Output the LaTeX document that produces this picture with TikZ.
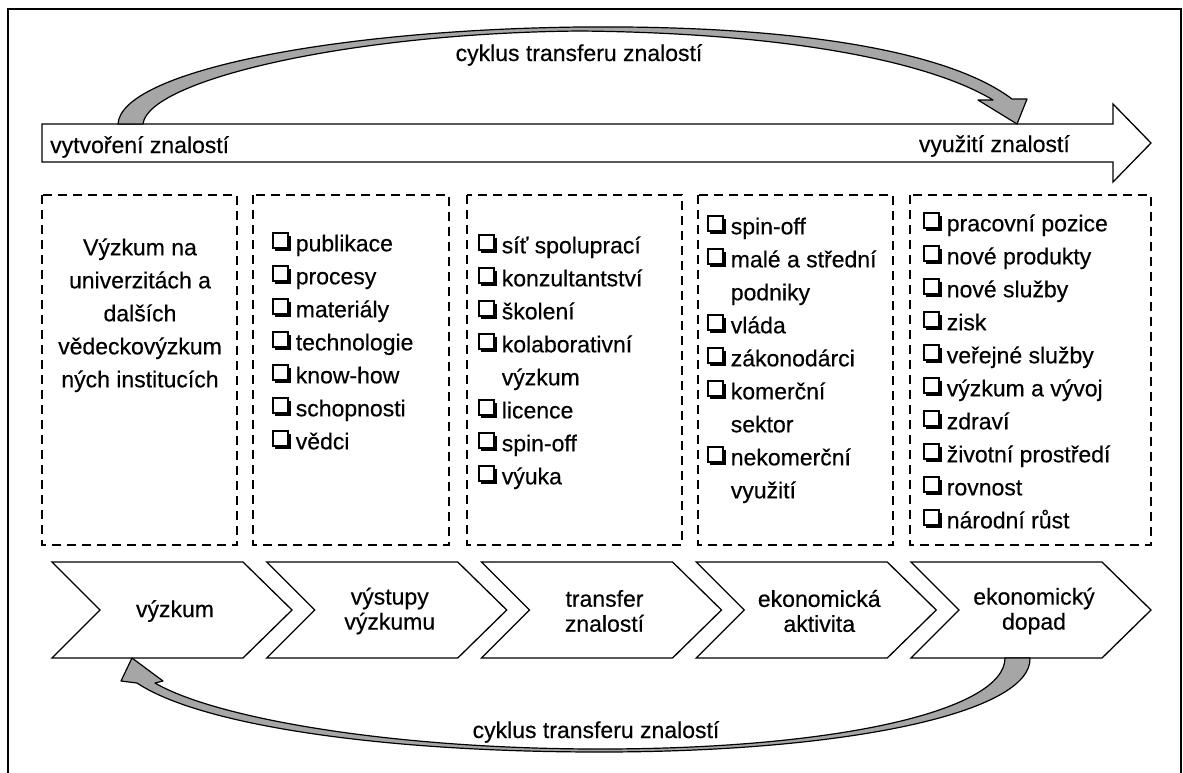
\documentclass[tikz,border=0pt]{standalone}
\usepackage{fontspec}
\setmainfont{Liberation Sans}[FakeBold=0.4]
\usetikzlibrary{positioning}

% small shadowed check box in front of each item
\newcommand{\chk}{\tikz[baseline=0pt,x=1pt,y=1pt]{\fill (3.2,0.4) rectangle (18.6,15.8); \filldraw[fill=white,line width=1.4pt] (0.7,3.4) rectangle (15.6,18.4);}\hspace{5pt}}
\newcommand{\ind}{\phantom{\chk}}

\begin{document}
\begin{tikzpicture}[x=1pt,y=-1pt,
  every node/.style={font=\fontsize{23}{33}\selectfont,inner sep=0pt},
  dashbox/.style={line width=1.8pt,dash pattern=on 9pt off 6pt},
  chevron/.style={line width=1.3pt,fill=white,line join=miter},
  cyclearrow/.style={line width=1.2pt,fill=black!35,line join=round},
  itemlist/.style={anchor=north west,align=left},
  stage/.style={align=center,font=\fontsize{23}{25}\selectfont}]

\useasboundingbox (0,0) rectangle (1183,772);

\draw [line width=1.5pt] (8,9) rectangle (1181,800);

% long arrow
\draw [line width=1.3pt,fill=white] (42,124) -- (1113,124) -- (1113,104) -- (1151,143) -- (1113,182) -- (1113,162) -- (42,162) -- cycle;
\node [anchor=base west] (create) at (50,153) {vytvoření znalostí};
\node [anchor=base east] (use) at (1070,152) {využití znalostí};

% dashed boxes
\foreach \l/\r in {42/237,253/449,467/682,698/893,910/1151}
  \draw [dashbox] (\l,195) rectangle (\r,545);

\node [align=center,anchor=north] (source) at (140,232) {\strut Výzkum na\\univerzitách a\\dalších\\vědeckovýzkum\\ných institucích};

\node [itemlist] (outputs) at (272,228) {\strut\chk publikace\\\chk procesy\\\chk materiály\\\chk technologie\\\chk know-how\\\chk schopnosti\\\chk vědci};

\node [itemlist] (channels) at (478,230) {\strut\chk síť spoluprací\\\chk konzultantství\\\chk školení\\\chk kolaborativní\\\ind výzkum\\\chk licence\\\chk spin-off\\\chk výuka};

\node [itemlist] (actors) at (707,211) {\strut\chk spin-off\\\chk malé a střední\\\ind podniky\\\chk vláda\\\chk zákonodárci\\\chk komerční\\\ind sektor\\\chk nekomerční\\\ind využití};

\node [itemlist] (impacts) at (923,208) {\strut\chk pracovní pozice\\\chk nové produkty\\\chk nové služby\\\chk zisk\\\chk veřejné služby\\\chk výzkum a vývoj\\\chk zdraví\\\chk životní prostředí\\\chk rovnost\\\chk národní růst};

% chevrons
\foreach \i/\txt in {0/výzkum,1/výstupy\\výzkumu,2/transfer\\znalostí,3/ekonomická\\aktivita,4/ekonomický\\dopad} {
  \pgfmathsetmacro{\xo}{52+214.75*\i}
  \draw [chevron] (\xo,562) -- ++(191,0) -- ++(49,48) -- ++(-49,48) -- ++(-191,0) -- ++(48,-48) -- cycle;
  \node [stage] (stage\i) at (\xo+123,611) {\txt};
}

% cycle arrows
\draw [cyclearrow] (118,124) .. controls (121,72) and (330,30) .. (580,27) .. controls (800,25) and (950,52) .. (1012,99) -- (1027,99) -- (1017,124) -- (978,100) -- (993,100) .. controls (930,62) and (790,33) .. (580,31) .. controls (350,33) and (148,80) .. (143,124) -- cycle;
\node [anchor=base] (cycletop) at (579,61) {cyklus transferu znalostí};

\draw [cyclearrow] (1030,658) .. controls (1032,712) and (850,752) .. (600,752) .. controls (380,752) and (200,725) .. (137,683) -- (121,681) -- (132,658) -- (163,681) -- (155,683) .. controls (215,718) and (390,749) .. (600,749) .. controls (840,749) and (1005,710) .. (1005,658) -- cycle;
\node [anchor=base] (cyclebottom) at (596,738) {cyklus transferu znalostí};

\end{tikzpicture}
\end{document}
